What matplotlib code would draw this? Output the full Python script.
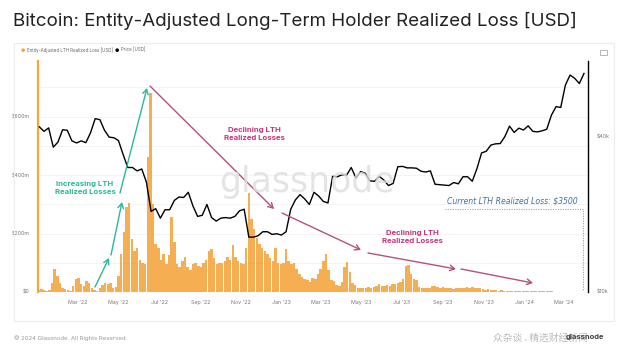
import numpy as np
import pandas as pd
import matplotlib
matplotlib.use("Agg")
import matplotlib.pyplot as plt
import matplotlib.dates as mdates
from matplotlib.patches import Rectangle
from matplotlib.ticker import FixedLocator, FuncFormatter, NullLocator

W, H = 627, 356

# BTC price, weekly closes [USD]
PRICE_START = "2022-01-02"
price_usd = [
    # 2022
    43500, 41800, 43100, 36300, 38000, 42400, 42200, 38400, 37700, 38400,
    37800, 41300, 46800, 46400, 42200, 39700, 39500, 38500, 34000, 30300,
    30300, 29400, 29900, 26600, 20500, 21000, 19300, 20800, 20800, 22600,
    23300, 23200, 24300, 21500, 19600, 19800, 21800, 19400, 18800, 19300,
    19400, 19300, 19600, 20600, 20900, 16300, 16300, 16500, 17100, 17100,
    16700, 16800,
    # 2023
    16600, 17100, 20900, 22700, 23800, 22900, 21800, 24300, 23500, 22400,
    22100, 28000, 27900, 28400, 28300, 30300, 27600, 29200, 28800, 26900,
    26800, 28000, 27100, 25800, 26300, 30500, 30600, 30200, 30200, 30100,
    29300, 29100, 29400, 26100, 26000, 25900, 25800, 26500, 26200, 27900,
    27900, 26800, 30000, 34500, 35000, 37000, 37400, 37500, 39900, 43800,
    41400, 43000, 42300,
    # 2024
    43900, 41800, 41600, 42000, 42600, 48300, 52100, 51700, 63100, 69000,
    67000, 64000, 70000,
]

# Entity-adjusted LTH realized loss, every 4 days [$m]
LOSS_START = "2022-01-01"
loss_musd = [
    6, 9, 7, 5, 8, 30, 78, 55, 30, 14,
    10, 6, 5, 22, 45, 48, 26, 22, 38, 30,
    15, 8, 5, 12, 24, 30, 26, 31, 14, 18,
    55, 130, 205, 290, 303, 180, 140, 150, 110, 100,
    95, 460, 682, 300, 165, 150, 110, 130, 95, 125,
    255, 170, 95, 85, 105, 120, 85, 75, 97, 100,
    90, 85, 100, 110, 140, 148, 115, 95, 100, 98,
    105, 120, 110, 160, 120, 105, 100, 95, 150, 338,
    250, 215, 185, 165, 150, 140, 130, 115, 105, 150,
    100, 95, 98, 148, 105, 95, 100, 80, 60, 50,
    45, 40, 35, 48, 45, 60, 80, 105, 130, 75,
    40, 38, 24, 20, 35, 85, 104, 70, 30, 24,
    14, 12, 14, 15, 16, 14, 18, 22, 26, 20,
    22, 25, 20, 26, 28, 30, 35, 45, 88, 92,
    60, 45, 40, 18, 12, 12, 13, 14, 20, 22,
    18, 14, 16, 15, 12, 13, 11, 14, 15, 12,
    14, 16, 15, 17, 14, 12, 12, 10, 8, 9,
    7, 6, 7, 5, 6, 5, 4, 5, 4, 4,
    3, 4, 3, 3, 3, 2, 3, 4, 3, 2,
    2, 3, 2, 2, 1, 1, 1, 1, 1, 0.5,
]

loss_ticks = [0, 100, 200, 300, 400, 500, 600, 700]
loss_labels = {0: "$0", 200: "$200m", 400: "$400m", 600: "$600m"}
price_ticks = [10000, 40000]
price_labels = ["$10k", "$40k"]
month_ticks = pd.date_range("2022-03-01", "2024-03-01", freq="2MS")

TITLE = "Bitcoin: Entity-Adjusted Long-Term Holder Realized Loss [USD]"
ORANGE = "#f6a53f"
TEAL = "#2bb89a"
MAGENTA = "#c8337a"
ARROW_PINK = "#b5507f"
BLUE = "#3f70a8"

plt.rcParams["font.family"] = ["Inter", "DejaVu Sans"]

price_dates = pd.date_range(PRICE_START, periods=len(price_usd), freq="7D")
loss_dates = pd.date_range(LOSS_START, periods=len(loss_musd), freq="4D")


def fx(x):
    return x / W


def fy(y):
    return 1 - y / H


fig = plt.figure(figsize=(W / 100, H / 100), dpi=100)
fig.patch.set_facecolor("white")

# card frame
fig.add_artist(Rectangle((fx(14), fy(321)), fx(614) - fx(14), fy(43) - fy(321),
                         transform=fig.transFigure, fill=False,
                         edgecolor="#ececec", linewidth=0.8))

ax = fig.add_axes([fx(38), fy(292), fx(588) - fx(38), fy(61) - fy(292)])
ax.bar(loss_dates, loss_musd, width=3.7, color=ORANGE, alpha=0.9, linewidth=0)
ax.set_ylim(0, 790)
ax.set_xlim(pd.Timestamp("2021-12-31"), pd.Timestamp("2024-04-06"))
ax.yaxis.set_major_locator(FixedLocator(loss_ticks))
ax.yaxis.set_major_formatter(FuncFormatter(lambda v, _: loss_labels.get(int(round(v)), "")))
ax.xaxis.set_major_locator(FixedLocator(mdates.date2num(month_ticks)))
ax.xaxis.set_major_formatter(mdates.DateFormatter("%b '%y"))
ax.grid(axis="y", color="#f1f1f1", linewidth=0.6)
ax.set_axisbelow(True)
ax.tick_params(length=0, labelsize=3.8, colors="#777", pad=6)
for s in ["top", "bottom", "right"]:
    ax.spines[s].set_visible(False)
ax.spines["left"].set_color(ORANGE)
ax.spines["left"].set_linewidth(1.6)

ax2 = ax.twinx()
ax2.plot(price_dates, price_usd, color="black", linewidth=1.0)
ax2.set_yscale("log")
ax2.set_ylim(10000, 78200)
ax2.yaxis.set_major_locator(FixedLocator(price_ticks))
ax2.yaxis.set_minor_locator(NullLocator())
ax2.set_yticklabels(price_labels)
ax2.tick_params(length=0, labelsize=3.8, colors="#777", pad=6)
for s in ["top", "bottom", "left"]:
    ax2.spines[s].set_visible(False)
ax2.spines["right"].set_color("black")
ax2.spines["right"].set_linewidth(1.0)

# watermark
fig.text(fx(307), fy(182), "glassnode", fontsize=25, color="#dedede",
         ha="center", va="center", family="DejaVu Sans", alpha=0.8)

# title, legend, footer
fig.text(fx(13), fy(21), TITLE, fontsize=13.5, color="#222", va="center")
fig.text(fx(21), fy(50), "●", fontsize=3.5, color=ORANGE, va="center")
fig.text(fx(27), fy(50), "Entity-Adjusted LTH Realized Loss [USD]", fontsize=3.2,
         color="#666", va="center")
fig.text(fx(115), fy(50), "●", fontsize=3.5, color="black", va="center")
fig.text(fx(121), fy(50), "Price [USD]", fontsize=3.2, color="#666", va="center")
fig.add_artist(Rectangle((fx(600), fy(55)), fx(7), fy(50) - fy(55),
                         transform=fig.transFigure, fill=False,
                         edgecolor="#aaa", linewidth=0.6))
fig.text(fx(14), fy(338), "© 2024 Glassnode. All Rights Reserved.", fontsize=4.3,
         color="#999", va="center")
fig.text(fx(493), fy(338), "众杂谈 . 精选财经新闻", fontsize=7, color="#bbb",
         va="center", family=["Noto Sans CJK SC", "DejaVu Sans"])
fig.text(fx(566), fy(337), "glassnode", fontsize=5.5, color="#444", va="center",
         weight="bold")


def arrow(x0, y0, x1, y1, color):
    ax2.annotate("", xy=(x1, H - y1), xytext=(x0, H - y0),
                 xycoords="figure pixels", textcoords="figure pixels",
                 arrowprops=dict(arrowstyle="->,head_length=0.35,head_width=0.2",
                                 color=color, lw=1.0, shrinkA=0, shrinkB=0),
                 annotation_clip=False)


for seg in [(95, 287, 109, 258), (111, 255, 122, 202), (120, 193, 147, 88)]:
    arrow(*seg, TEAL)
for seg in [(150, 86, 274, 209), (282, 213, 361, 250), (368, 253, 456, 269),
            (461, 269, 533, 283)]:
    arrow(*seg, ARROW_PINK)

fig.text(fx(85), fy(188), "Increasing LTH\nRealized Losses", fontsize=5.6,
         weight="bold", color=TEAL, ha="center", va="center", linespacing=1.3)
fig.text(fx(254), fy(134), "Declining LTH\nRealized Losses", fontsize=5.6,
         weight="bold", color=MAGENTA, ha="center", va="center", linespacing=1.3)
fig.text(fx(412), fy(237), "Declining LTH\nRealized Losses", fontsize=5.6,
         weight="bold", color=MAGENTA, ha="center", va="center", linespacing=1.3)

# current loss callout
fig.text(fx(512), fy(201), "Current LTH Realized Loss: $3500", fontsize=5.6,
         style="italic", color=BLUE, ha="center", va="center", family="DejaVu Sans")
fig.add_artist(plt.Line2D([fx(445), fx(583), fx(583)], [fy(209), fy(209), fy(291)],
                          transform=fig.transFigure, color="#8aa6c6",
                          linewidth=0.8, linestyle=(0, (1, 1.2))))

fig.savefig("out.png", dpi=100)
